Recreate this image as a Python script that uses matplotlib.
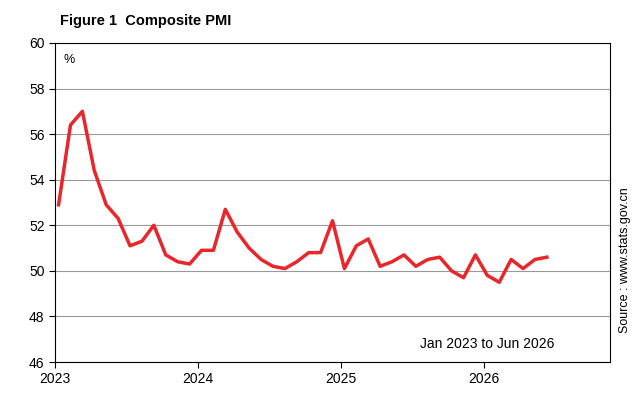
import numpy as np
import matplotlib.pyplot as plt

# composite PMI, Jan 2023 .. Jun 2026
pmi_2023 = [52.9, 56.4, 57.0, 54.4, 52.9, 52.3, 51.1, 51.3, 52.0, 50.7, 50.4, 50.3]
pmi_2024 = [50.9, 50.9, 52.7, 51.7, 51.0, 50.5, 50.2, 50.1, 50.4, 50.8, 50.8, 52.2]
pmi_2025 = [50.1, 51.1, 51.4, 50.2, 50.4, 50.7, 50.2, 50.5, 50.6, 50.0, 49.7, 50.7]
pmi_2026 = [49.8, 49.5, 50.5, 50.1, 50.5, 50.6]
year_labels = ["2023", "2024", "2025", "2026"]

values = pmi_2023 + pmi_2024 + pmi_2025 + pmi_2026
months = np.arange(len(values)) + 0.3  # points sit a little after the year ticks

plt.rcParams['font.family'] = ['Liberation Sans', 'DejaVu Sans']
fig = plt.figure(figsize=(6.4, 4.04), dpi=100)
ax = fig.add_axes([55 / 640, 1 - 362 / 404, 555 / 640, 319 / 404])

ax.plot(months, values, color='#e8262b', lw=2.5)
ax.set_xlim(0, 46.6)
ax.set_ylim(46, 60)
ax.set_yticks(range(46, 61, 2))
ax.set_xticks([0, 12, 24, 36])
ax.set_xticklabels(year_labels)
ax.yaxis.grid(True, color='#999999', lw=0.8)
ax.set_axisbelow(True)
ax.tick_params(labelsize=10, direction='out', length=4)
for s in ax.spines.values():
    s.set_linewidth(0.8)

ax.text(0.015, 0.965, "%", transform=ax.transAxes, fontsize=9, va='top')
ax.text(0.9, 0.035, "Jan 2023 to Jun 2026", transform=ax.transAxes, fontsize=10,
        ha='right', va='bottom')
fig.text(60 / 640, 1 - 21 / 404, "Figure 1  Composite PMI", fontsize=10.5,
         fontweight='bold', va='center')
fig.text(625 / 640, 1 - 260 / 404, "Source : www.stats.gov.cn", fontsize=9,
         rotation=90, ha='center', va='center')

fig.savefig("out.png", dpi=100)
